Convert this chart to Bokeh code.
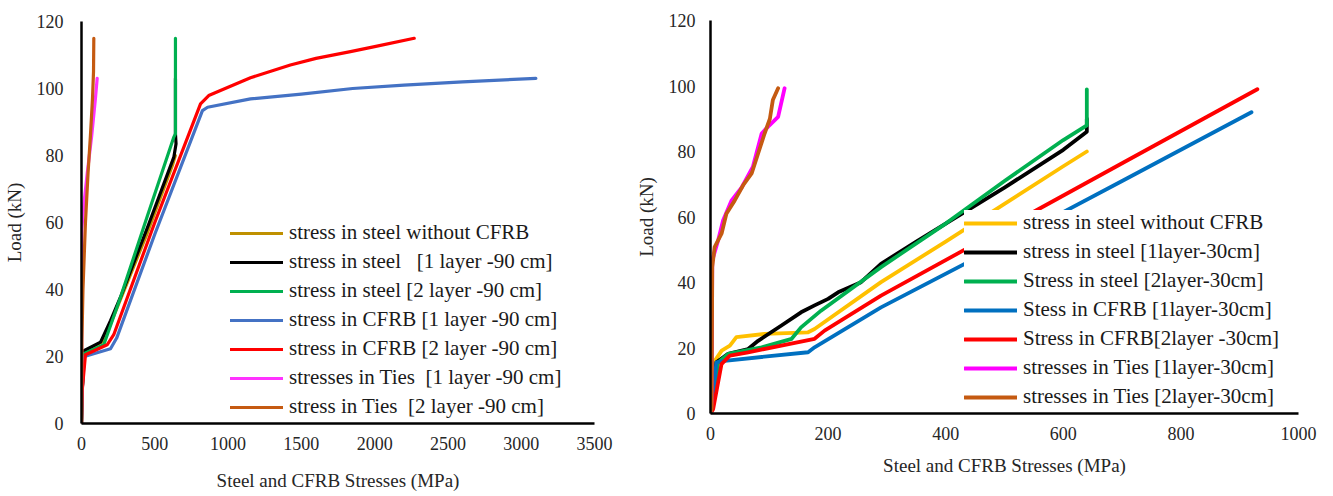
from bokeh.plotting import figure
from bokeh.models import Legend, LegendItem, Range1d, FixedTicker
from bokeh.layouts import row
from bokeh.embed import file_html
from bokeh.resources import INLINE

FONT = "Liberation Serif"

# ---------------- Left chart data (90 cm) ----------------
L_x_ticks = [0, 500, 1000, 1500, 2000, 2500, 3000, 3500]
y_ticks = [0, 20, 40, 60, 80, 100, 120]

L_plain_x = [0, 5, 15, 60, 150, 270, 450, 620, 640]
L_plain_y = [0, 10, 21, 22.5, 24.5, 37.5, 57, 77, 80]

L_steel1_x = [0, 5, 20, 130, 198, 266, 450, 630, 645, 641, 641]
L_steel1_y = [0, 10, 21.8, 24.3, 30.7, 37.7, 58.5, 79.5, 83.5, 86.5, 103]

L_steel2_x = [0, 5, 16, 152, 266, 450, 630, 641, 641]
L_steel2_y = [0, 10, 20.8, 23.5, 37.7, 62, 85.5, 86.5, 115]

L_cfrb1_x = [0, 5, 20, 198, 240, 500, 825, 860, 1153, 1500, 1850, 2200, 2600, 3100]
L_cfrb1_y = [0, 10, 20, 22.3, 25.5, 56.5, 93.4, 94.4, 96.9, 98.3, 100, 101, 102, 103]

L_cfrb2_x = [0, 5, 27, 175, 220, 500, 812, 868, 948, 1153, 1425, 1600, 1835, 2000, 2270]
L_cfrb2_y = [0, 10, 20.5, 23.5, 26.5, 60, 95.4, 97.9, 99.4, 103.2, 107, 109, 111, 112.5, 115]

L_ties1_x = [0, 1, 2, 15, 40, 70, 95, 107]
L_ties1_y = [0, 30, 58, 65, 75, 86, 97, 103]

L_ties2_x = [0, 3, 10, 27, 45, 61, 75, 82, 84]
L_ties2_y = [0, 25, 40, 60, 75, 86, 97, 105, 115]

L_labels = [
    "stress in steel without CFRB",
    "stress in steel   [1 layer -90 cm]",
    "stress in steel [2 layer -90 cm]",
    "stress in CFRB [1 layer -90 cm]",
    "stress in CFRB [2 layer -90 cm]",
    "stresses in Ties  [1 layer -90 cm]",
    "stress in Ties  [2 layer -90 cm]",
]
L_colors = ["#BF9000", "#000000", "#00B050", "#4472C4", "#FF0000", "#FF33FF", "#C55A11"]

# ---------------- Right chart data (30 cm) ----------------
R_x_ticks = [0, 200, 400, 600, 800, 1000]

R_plain_x = [0, 7, 19, 33, 44, 92, 166, 177, 290, 400, 500, 600, 640]
R_plain_y = [0, 16, 19.2, 20.7, 23.3, 24.3, 24.8, 25.8, 40.1, 52.5, 64, 75.5, 80]

R_steel1_x = [0, 2, 10, 30, 64, 81, 120, 154, 177, 200, 217, 256, 290, 350, 400, 500, 600, 640, 640]
R_steel1_y = [0, 2, 15.6, 18.2, 19.7, 22.2, 26.8, 30.9, 33, 35, 37, 40.1, 45.7, 52.5, 58, 69, 80.5, 86, 90]

R_steel2_x = [0, 4.5, 13, 30, 87, 138, 154, 188, 290, 400, 500, 600, 640, 640]
R_steel2_y = [0, 3.9, 15.6, 18.2, 20.2, 22.8, 26.3, 31.4, 44.7, 58, 71, 83.5, 88, 99]

R_cfrb1_x = [0, 2, 10, 24, 166, 177, 290, 500, 700, 920]
R_cfrb1_y = [0, 1.8, 15.6, 16.1, 18.7, 20.2, 32.4, 52, 71, 92]

R_cfrb2_x = [0, 4.5, 18.7, 33, 64, 177, 194, 290, 500, 700, 930]
R_cfrb2_y = [0, 1.3, 15.1, 17.7, 18.7, 22.8, 25.3, 36, 56.7, 76.4, 99]

R_ties1_x = [0, 2, 3, 13, 21.5, 35.6, 53, 72, 87, 98, 115, 126]
R_ties1_y = [0, 3.9, 46.7, 52.9, 59, 65, 69, 75.3, 85.5, 87.6, 90.6, 99.3]

R_ties2_x = [0, 2, 3, 7, 19, 27, 41, 55.5, 70, 81, 92, 101, 106, 115]
R_ties2_y = [0, 1.8, 44.7, 50.8, 55, 61, 65, 69.7, 73.3, 79.4, 85.5, 90, 95.7, 99.3]

R_labels = [
    "stress in steel without CFRB",
    "stress in steel [1layer-30cm]",
    "Stress in steel [2layer-30cm]",
    "Stess in CFRB [1layer-30cm]",
    "Stress in CFRB[2layer -30cm]",
    "stresses in Ties [1layer-30cm]",
    "stresses in Ties [2layer-30cm]",
]
R_colors = ["#FFC000", "#000000", "#00B050", "#0070C0", "#FF0000", "#FF00FF", "#C55A11"]


def style_axes(p, xticks, y_label_standoff, x_title_standoff):
    for ax in (p.xaxis[0], p.yaxis[0]):
        ax.axis_line_color = "black"
        ax.axis_line_width = 2.5
        ax.major_tick_line_color = None
        ax.minor_tick_line_color = None
        ax.major_tick_out = 0
        ax.major_tick_in = 0
        ax.major_label_text_font = FONT
        ax.major_label_text_font_size = "18px"
        ax.major_label_text_color = "#262626"
        ax.axis_label_text_font = FONT
        ax.axis_label_text_font_size = "19px"
        ax.axis_label_text_font_style = "normal"
        ax.axis_label_text_color = "#262626"
    p.xaxis[0].ticker = FixedTicker(ticks=xticks)
    p.yaxis[0].ticker = FixedTicker(ticks=y_ticks)
    p.xaxis[0].axis_label = "Steel and CFRB Stresses (MPa)"
    p.yaxis[0].axis_label = "Load (kN)"
    p.xaxis[0].major_label_standoff = 13
    p.yaxis[0].major_label_standoff = y_label_standoff
    p.yaxis[0].axis_label_standoff = 9
    p.xaxis[0].axis_label_standoff = x_title_standoff
    p.xgrid.visible = False
    p.ygrid.visible = False
    p.outline_line_color = None


def build(series, labels, colors, xmax, xticks, width, borders, lw, legend_loc,
          y_label_standoff, x_title_standoff):
    p = figure(width=width, height=494, output_backend="svg", toolbar_location=None,
               x_range=Range1d(0, xmax), y_range=Range1d(0, 120),
               min_border_left=borders[0], min_border_right=borders[1],
               min_border_top=borders[2], min_border_bottom=borders[3])
    style_axes(p, xticks, y_label_standoff, x_title_standoff)
    items = []
    for (xs, ys), lab, col in zip(series, labels, colors):
        r = p.line(xs, ys, line_color=col, line_width=lw, line_join="round", line_cap="round")
        items.append(LegendItem(label=lab, renderers=[r]))
    leg = Legend(items=items, location=legend_loc,
                 label_text_font=FONT, label_text_font_size="21px", label_text_color="#1a1a1a",
                 glyph_width=53, glyph_height=24, label_height=24, label_standoff=6, spacing=4,
                 padding=4, margin=0, border_line_color=None,
                 background_fill_color="white", background_fill_alpha=1.0)
    p.add_layout(leg)
    return p


left_series = [(L_plain_x, L_plain_y), (L_steel1_x, L_steel1_y), (L_steel2_x, L_steel2_y),
               (L_cfrb1_x, L_cfrb1_y), (L_cfrb2_x, L_cfrb2_y), (L_ties1_x, L_ties1_y),
               (L_ties2_x, L_ties2_y)]
right_series = [(R_plain_x, R_plain_y), (R_steel1_x, R_steel1_y), (R_steel2_x, R_steel2_y),
                (R_cfrb1_x, R_cfrb1_y), (R_cfrb2_x, R_cfrb2_y), (R_ties1_x, R_ties1_y),
                (R_ties2_x, R_ties2_y)]

p1 = build(left_series, L_labels, L_colors, 3500, L_x_ticks, 628, (81, 34, 21, 71), 3.2,
           (149, 4), 18, 17)
p2 = build(right_series, R_labels, R_colors, 1000, R_x_ticks, 697, (82, 27, 20, 81), 3.8,
           (254, 4), 15, 12)

# Place the two independent plots side by side (so their frames are not aligned)
TEMPLATE = """
{% block contents %}
{% from macros import embed with context %}
<div style="display:flex;flex-direction:row;align-items:flex-start;">
{% for doc in docs %}{% for root in doc.roots %}{{ embed(root) }}{% endfor %}{% endfor %}
</div>
{% endblock %}
"""

try:
    html = file_html([p1, p2], INLINE, template=TEMPLATE)
except Exception:
    html = file_html(row(p1, p2), INLINE)

open("out.html", "w").write(html)
